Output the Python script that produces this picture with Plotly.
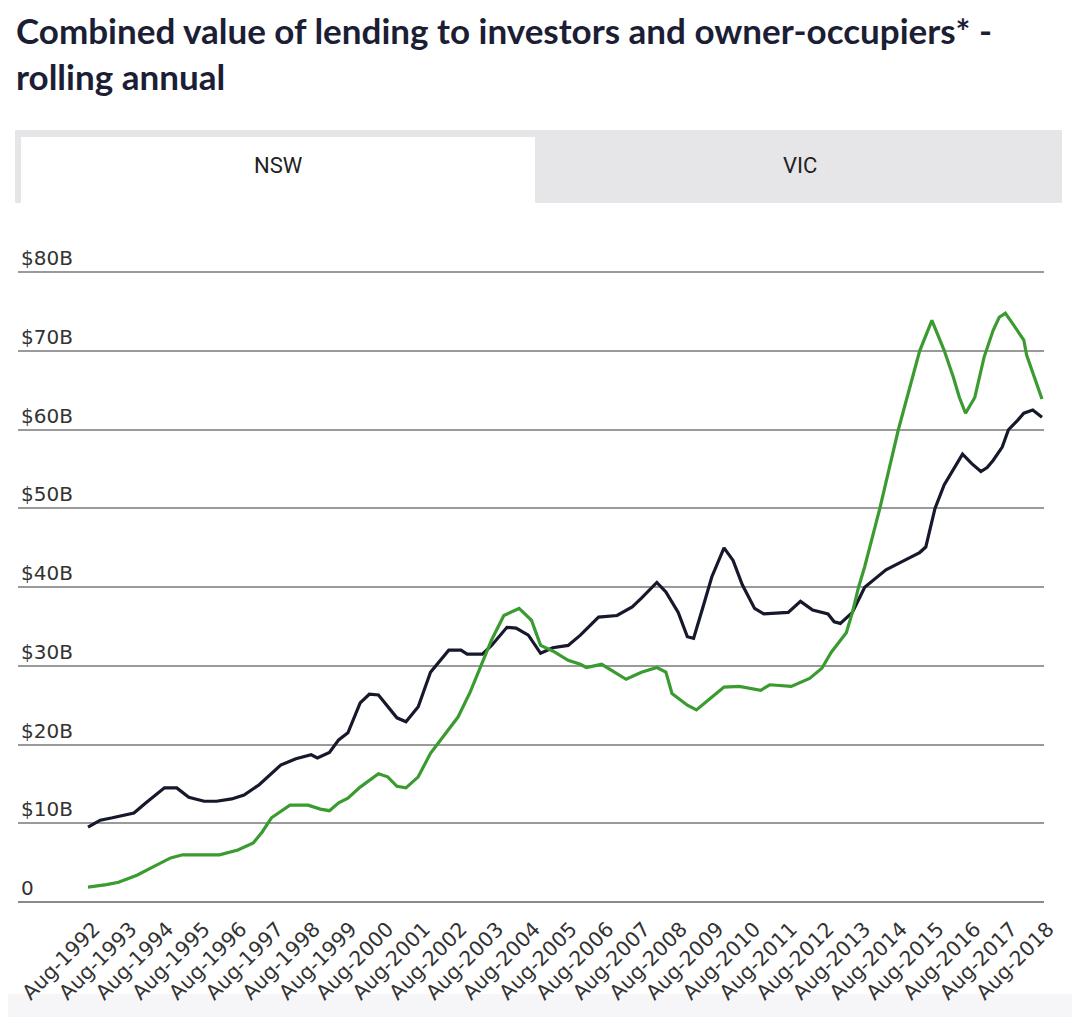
import plotly.graph_objects as go

# ---- data, values in $B ----
dark_dates = ["1992-08", "1992-12", "1993-04", "1993-11", "1994-03", "1994-09", "1995-01", "1995-05",
              "1995-10", "1996-02", "1996-07", "1996-11", "1997-04", "1997-11", "1998-04", "1998-09",
              "1998-11", "1999-03", "1999-06", "1999-09", "2000-01", "2000-04", "2000-07", "2000-10",
              "2001-01", "2001-04", "2001-08", "2001-12", "2002-04", "2002-06", "2002-10", "2002-12",
              "2003-05", "2003-08", "2004-01", "2004-04", "2004-08", "2004-12", "2005-04", "2005-09",
              "2006-01", "2006-07", "2007-01", "2007-06", "2007-09", "2008-02", "2008-05", "2008-09",
              "2008-12", "2009-02", "2009-05", "2009-08", "2009-12", "2010-03", "2010-06", "2010-10",
              "2011-01", "2011-04", "2011-09", "2012-01", "2012-05", "2012-10", "2012-12", "2013-02",
              "2013-06", "2013-10", "2014-05", "2014-11", "2015-04", "2015-06", "2015-09", "2015-12",
              "2016-03", "2016-06", "2016-09", "2016-12", "2017-02", "2017-04", "2017-07", "2017-09",
              "2017-12", "2018-02", "2018-05", "2018-08"]
dark_values = [9.5, 10.4, 10.7, 11.3, 12.6, 14.5, 14.5, 13.3,
               12.8, 12.8, 13.1, 13.6, 14.9, 17.4, 18.2, 18.7,
               18.3, 19.0, 20.6, 21.5, 25.3, 26.4, 26.3, 24.8,
               23.4, 22.9, 24.8, 29.2, 31.1, 32.0, 32.0, 31.5,
               31.5, 32.6, 34.9, 34.8, 33.9, 31.6, 32.3, 32.6,
               33.9, 36.2, 36.4, 37.5, 38.6, 40.6, 39.4, 36.8,
               33.7, 33.5, 37.3, 41.3, 45.0, 43.4, 40.3, 37.3,
               36.6, 36.7, 36.8, 38.2, 37.1, 36.6, 35.6, 35.4,
               36.8, 40.0, 42.2, 43.4, 44.4, 45.1, 50.0, 53.0,
               54.9, 56.9, 55.7, 54.7, 55.2, 56.1, 57.8, 60.0,
               61.2, 62.1, 62.5, 61.6]

green_dates = ["1992-08", "1993-02", "1993-06", "1993-12", "1994-05", "1994-11", "1995-03", "1996-03",
               "1996-09", "1997-02", "1997-05", "1997-08", "1998-02", "1998-08", "1998-12", "1999-03",
               "1999-06", "1999-09", "2000-01", "2000-07", "2000-10", "2001-01", "2001-04", "2001-08",
               "2001-12", "2002-04", "2002-09", "2003-01", "2003-05", "2003-08", "2003-12", "2004-02",
               "2004-05", "2004-09", "2004-12", "2005-04", "2005-09", "2006-01", "2006-03", "2006-08",
               "2007-04", "2007-09", "2008-02", "2008-05", "2008-07", "2008-12", "2009-03", "2009-07",
               "2009-12", "2010-05", "2010-12", "2011-03", "2011-10", "2012-04", "2012-08", "2012-11",
               "2013-04", "2013-06", "2013-08", "2013-10", "2014-03", "2014-09", "2015-01", "2015-04",
               "2015-08", "2015-12", "2016-03", "2016-05", "2016-07", "2016-10", "2017-01", "2017-04",
               "2017-06", "2017-08", "2017-10", "2018-02", "2018-03", "2018-08"]
green_values = [1.9, 2.2, 2.5, 3.4, 4.4, 5.6, 6.0, 6.0,
                6.6, 7.5, 8.9, 10.7, 12.3, 12.3, 11.8, 11.6,
                12.6, 13.2, 14.6, 16.3, 15.9, 14.7, 14.5, 15.9,
                18.9, 21.0, 23.5, 26.7, 30.5, 33.3, 36.4, 36.8,
                37.3, 35.8, 32.6, 31.9, 30.7, 30.2, 29.8, 30.2,
                28.3, 29.2, 29.8, 29.2, 26.5, 25.0, 24.4, 25.7,
                27.3, 27.4, 26.9, 27.6, 27.4, 28.4, 29.7, 31.7,
                34.2, 36.8, 40.0, 42.6, 50.0, 60.0, 65.9, 70.0,
                73.9, 70.1, 66.7, 64.1, 62.1, 64.1, 69.2, 72.6,
                74.3, 74.8, 73.7, 71.4, 69.5, 63.9]

tick_years = list(range(1992, 2019))
tick_vals = [f"{y}-08-01" for y in tick_years]
tick_text = [f"Aug-{y}" for y in tick_years]
y_ticks = [0, 10, 20, 30, 40, 50, 60, 70, 80]
y_tick_text = ["0", "$10B", "$20B", "$30B", "$40B", "$50B", "$60B", "$70B", "$80B"]
tabs = ["NSW", "VIC"]

# the page body has an 8px margin: figure coords = page coords - 8
OFF = 8
W, H = 1064, 1009
L, R, T, B = 10, 28, 225, 115
PW, PH = W - L - R, H - T - B


def px(x):
    return (x - OFF - L) / PW


def py(y):
    return (H - B - (y - OFF)) / PH


fig = go.Figure()
fig.add_trace(go.Scatter(x=dark_dates, y=dark_values, mode="lines", name="Dark",
                         line=dict(color="#16182c", width=3.2), showlegend=False))
fig.add_trace(go.Scatter(x=green_dates, y=green_values, mode="lines", name="Green",
                         line=dict(color="#3a9b30", width=3.2), showlegend=False))

shapes = [
    dict(type="rect", xref="paper", yref="paper", x0=px(0), x1=px(1080), y0=py(1025), y1=py(994),
         fillcolor="#f6f6f8", line=dict(width=0), layer="below"),
    dict(type="rect", xref="paper", yref="paper", x0=px(15), x1=px(1062), y0=py(203), y1=py(130),
         fillcolor="#e6e6e9", line=dict(width=0), layer="below"),
    dict(type="rect", xref="paper", yref="paper", x0=px(21), x1=px(535), y0=py(203), y1=py(137),
         fillcolor="#ffffff", line=dict(width=0), layer="below"),
]

annotations = [
    dict(text="Combined value of lending to investors and owner-occupiers* -<br>rolling annual",
         xref="paper", yref="paper", x=px(14), y=py(7), xanchor="left", yanchor="top",
         align="left", showarrow=False,
         font=dict(family="Lato, Roboto", size=35, color="#1b1e34", weight="bold")),
    dict(text=tabs[0], xref="paper", yref="paper", x=px(278), y=py(165), xanchor="center",
         yanchor="middle", showarrow=False,
         font=dict(family="Liberation Sans Narrow, Roboto", size=22, color="#222222")),
    dict(text=tabs[1], xref="paper", yref="paper", x=px(800), y=py(165), xanchor="center",
         yanchor="middle", showarrow=False,
         font=dict(family="Liberation Sans Narrow, Roboto", size=22, color="#222222")),
]

fig.update_layout(
    width=W, height=H,
    margin=dict(l=L, r=R, t=T, b=B, pad=0),
    paper_bgcolor="#ffffff", plot_bgcolor="#ffffff",
    shapes=shapes, annotations=annotations,
    xaxis=dict(type="date", range=["1990-09-04", "2018-08-21"],
               tickmode="array", tickvals=tick_vals, ticktext=tick_text, tickangle=-45,
               showgrid=False, zeroline=False, showline=False, ticks="",
               ticklabelshift=6, ticklabelstandoff=10,
               tickfont=dict(family="DejaVu Sans", size=20.5, color="#333333")),
    yaxis=dict(range=[0, 85], tickmode="array", tickvals=y_ticks, ticktext=y_tick_text,
               ticklabelposition="inside top", showgrid=True, gridcolor="#9a9a9a", gridwidth=1.5,
               zeroline=True, zerolinecolor="#8a8a8a", zerolinewidth=1.5, showline=False, ticks="",
               tickfont=dict(family="DejaVu Sans", size=20, color="#333333")),
)

fig.write_html("out.html")
